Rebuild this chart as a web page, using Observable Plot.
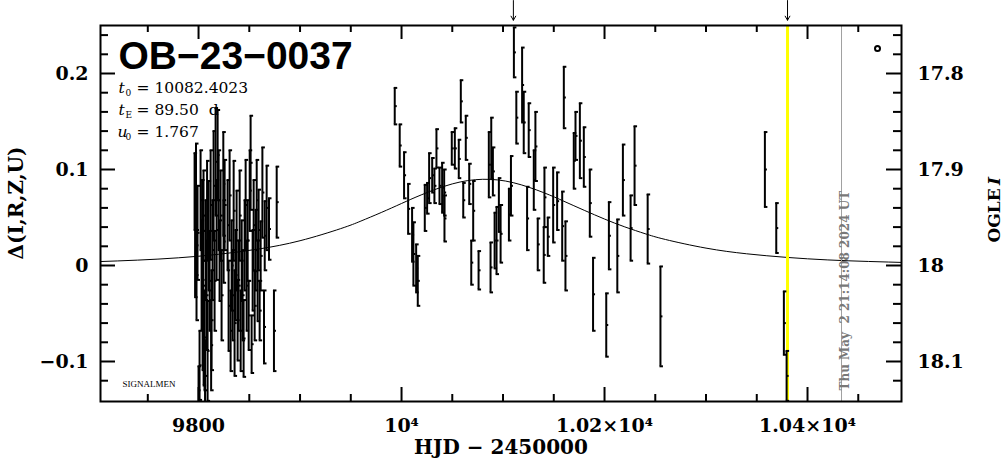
<!DOCTYPE html>
<html><head><meta charset="utf-8">
<script src="https://cdn.jsdelivr.net/npm/d3@7"></script>
<script src="https://cdn.jsdelivr.net/npm/@observablehq/plot@0.6"></script>
<style>html,body{margin:0;padding:0;background:#fff;}</style>
</head><body><div id="chart"></div>
<script>
// Observations: HJD-2450000, delta mag, error
const hjd = [
9796.1,9796.6,9797.5,9798.0,9799.0,9801.0,9802.0,9803.0,9804.0,9804.9,9805.9,9806.4,9806.9,9807.9,9808.9,9809.9,9810.9,9811.9,9812.8,9813.8,
9814.8,9815.8,9816.8,9817.8,9818.8,9819.8,9820.7,9821.7,9822.7,9824.4,9824.7,9825.7,9828.6,9829.6,9830.6,9831.6,9832.6,9833.6,9834.6,9835.5,
9836.5,9837.5,9838.5,9839.5,9840.5,9841.5,9842.5,9843.4,9844.4,9845.4,9846.4,9847.4,9848.4,9849.4,9850.4,9851.3,9852.3,9853.3,9854.3,9855.3,
9856.3,9857.3,9858.2,9859.2,9860.2,9861.2,9862.9,9864.5,9865.2,9867.1,9869.4,9874.3,9877.0,9803.5,9808.4,9804.4,9812.4,9800.0,9805.0,
9993.3,9998.2,10002.5,10006.5,10010.4,10011.7,10014.4,10016.0,10022.9,10025.2,10027.2,10030.2,10032.4,10034.4,10037.4,10040.0,10042.0,10042.3,
10049.5,10052.5,10056.4,10058.4,10060.8,10063.3,10066.7,10068.7,10070.6,10075.9,10086.0,10088.4,10090.0,10087.7,10091.7,10093.6,10095.9,10097.6,
10105.8,10107.8,10110.7,10113.1,10118.8,10120.4,10125.3,10123.7,10131.9,10130.3,10134.2,10140.8,10140.1,10144.1,10149.4,10153.3,10158.3,10161.5,
10159.9,10169.7,10171.4,10175.7,10179.6,10185.5,10188.7,10201.7,10204.3,10212.6,10218.1,10225.7,10229.6,10242.5,10255.1,10358.0,10369.2,10376.7,10379.4
];
const dmag = [
0.077,0.017,0.074,-0.010,0.034,-0.104,0.068,-0.010,-0.052,0.052,-0.078,-0.115,0.016,-0.031,-0.089,0.031,-0.016,0.063,-0.057,0.016,
0.083,-0.016,0.108,0.037,0.115,0.068,0.005,0.052,-0.031,0.085,0.025,0.063,0.042,-0.042,0.073,-0.068,0.000,-0.031,0.057,-0.060,
-0.010,0.026,-0.057,-0.021,0.052,-0.068,0.005,-0.031,-0.076,0.021,0.063,-0.021,0.026,-0.052,0.078,0.107,-0.082,-0.005,0.042,-0.042,
0.016,0.068,-0.016,0.037,-0.047,0.010,0.076,-0.064,0.031,0.060,0.038,-0.068,0.066,0.037,0.057,-0.021,-0.083,-0.130,-0.100,
0.166,0.125,0.094,0.059,0.032,0.012,-0.003,-0.016,0.060,0.070,0.091,0.094,0.083,0.122,0.083,0.081,0.076,0.049,
0.122,0.122,0.111,0.171,0.068,0.133,0.085,0.003,0.057,-0.005,0.105,0.122,0.098,-0.002,0.026,0.026,0.063,0.033,
0.053,0.083,0.222,0.154,0.188,0.149,0.141,0.049,0.124,0.089,0.022,0.071,0.011,0.030,0.063,0.067,0.041,0.010,
0.175,0.109,0.135,0.130,0.113,0.065,-0.030,-0.062,0.031,0.010,0.089,0.039,0.104,0.038,-0.053,0.100,0.039,-0.060,-0.115
];
const err = [
0.040,0.050,0.053,0.047,0.049,0.036,0.052,0.057,0.057,0.047,0.052,0.036,0.052,0.057,0.052,0.057,0.052,0.057,0.052,0.052,
0.057,0.052,0.056,0.052,0.047,0.052,0.042,0.047,0.047,0.054,0.043,0.047,0.047,0.047,0.047,0.042,0.047,0.047,0.052,0.055,
0.047,0.052,0.042,0.047,0.047,0.042,0.042,0.047,0.040,0.047,0.047,0.047,0.042,0.036,0.042,0.049,0.030,0.042,0.047,0.036,
0.042,0.042,0.042,0.042,0.031,0.036,0.047,0.038,0.036,0.044,0.032,0.042,0.037,0.052,0.052,0.057,0.047,0.025,0.025,
0.019,0.022,0.024,0.026,0.028,0.033,0.025,0.026,0.024,0.016,0.026,0.018,0.018,0.020,0.019,0.026,0.024,0.024,
0.017,0.021,0.020,0.022,0.018,0.023,0.021,0.023,0.031,0.020,0.034,0.032,0.025,0.026,0.029,0.035,0.028,0.030,
0.027,0.031,0.026,0.027,0.039,0.032,0.028,0.033,0.036,0.031,0.027,0.031,0.029,0.020,0.039,0.030,0.036,0.036,
0.032,0.029,0.025,0.039,0.031,0.035,0.038,0.033,0.035,0.038,0.037,0.034,0.041,0.036,0.052,0.039,0.026,0.033,0.026
];
// Model light curve
const modelT = [9700,9740,9780,9820,9860,9900,9940,9960,9980,10000,10020,10050,10080,10110,10140,10160,10180,10200,10220,10240,10260,10300,10340,10380,10420,10460,10500];
const modelD = [0.0040,0.0056,0.0080,0.0117,0.0173,0.0258,0.0384,0.0463,0.0552,0.0646,0.0738,0.0850,0.0898,0.0863,0.0759,0.0669,0.0575,0.0484,0.0402,0.0331,0.0271,0.0181,0.0122,0.0084,0.0058,0.0042,0.0030];

const xDomain = [9703.4, 10492.6];
const yDomain = [-0.14167, 0.25];
const xMajor = [9800, 10000, 10200, 10400];
const xTickLabels = ["9800", "10⁴", "1.02×10⁴", "1.04×10⁴"];
const xMinor = [9750,9850,9900,9950,10050,10100,10150,10250,10300,10350,10450];
const yMajor = [-0.1, 0, 0.1, 0.2];
const yLeftLabels = ["−0.1", "0", "0.1", "0.2"];
const yRightLabels = ["18.1", "18", "17.9", "17.8"];
const yMinor = [-0.12,-0.08,-0.06,-0.04,-0.02,0.02,0.04,0.06,0.08,0.12,0.14,0.16,0.18,0.22,0.24];
const yellowLine = [10380.3];
const grayLine = [10433.5];
const arrowT = [10110.2, 10380.3];
const arrowY = [0.276, 0.2555];

const title = "OB−23−0037";
const params = [["t", "0", "= 10082.4023"], ["t", "E", "= 89.50  d"], ["u", "0", "= 1.767"]];
const stamp = "Thu May \u00a02 21:14:08 2024 UT";
const yLabel = "Δ(I,R,Z,U)";
const xLabel = "HJD − 2450000";

const obs = hjd.map((t, i) => ({t, d: dmag[i], e: err[i]}));
const model = modelT.map((t, i) => ({t, d: modelD[i]}));

const capSym = {draw(ctx) { ctx.moveTo(-1, 0); ctx.lineTo(2.5, 0); }};
const midSym = {draw(ctx) { ctx.moveTo(0, 0); ctx.lineTo(2, 0); }};

const W = 1004, H = 459, ML = 100, MR = 103, MT = 25, MB = 58;
const FW = W - ML - MR, FH = H - MT - MB;
// tick lengths in pixels, converted to data units through the scale spans
const xPerPx = (xDomain[1] - xDomain[0]) / FW;
const yPerPx = (yDomain[1] - yDomain[0]) / FH;
const xMajLen = 14 * yPerPx, xMinLen = 7 * yPerPx;
const yMajLen = 15 * xPerPx, yMinLen = 8 * xPerPx;

const axisFont = {fontFamily: "DejaVu Serif", fontSize: 19, fontWeight: "bold"};
const serif = "DejaVu Serif";

const paramMarks = params.flatMap(([a, s, rest], i) => {
  const dy = 67 + i * 22;
  return [
    Plot.text([a], {text: d => d, frameAnchor: "top-left", dx: a === "u" ? 17 : 18, dy, lineAnchor: "bottom", textAnchor: "start", fontFamily: serif, fontStyle: "italic", fontSize: 15.5}),
    Plot.text([s], {text: d => d, frameAnchor: "top-left", dx: 25, dy: dy + 3, lineAnchor: "bottom", textAnchor: "start", fontFamily: serif, fontSize: 9}),
    Plot.text([rest], {text: d => d, frameAnchor: "top-left", dx: 36, dy, lineAnchor: "bottom", textAnchor: "start", fontFamily: serif, fontSize: 15.5})
  ];
});

// inward ticks drawn as short rules through the scales (same mechanism as the error bars)
const tk = {stroke: "#000", strokeWidth: 2};
const tickMarks = [
  Plot.ruleX(xMajor, {x: d => d, y1: () => yDomain[0], y2: () => yDomain[0] + xMajLen, ...tk}),
  Plot.ruleX(xMinor, {x: d => d, y1: () => yDomain[0], y2: () => yDomain[0] + xMinLen, ...tk}),
  Plot.ruleX(xMajor, {x: d => d, y1: () => yDomain[1] - xMajLen, y2: () => yDomain[1], ...tk}),
  Plot.ruleX(xMinor, {x: d => d, y1: () => yDomain[1] - xMinLen, y2: () => yDomain[1], ...tk}),
  Plot.ruleY(yMajor, {y: d => d, x1: () => xDomain[0], x2: () => xDomain[0] + yMajLen, ...tk}),
  Plot.ruleY(yMinor, {y: d => d, x1: () => xDomain[0], x2: () => xDomain[0] + yMinLen, ...tk}),
  Plot.ruleY(yMajor, {y: d => d, x1: () => xDomain[1] - yMajLen, x2: () => xDomain[1], ...tk}),
  Plot.ruleY(yMinor, {y: d => d, x1: () => xDomain[1] - yMinLen, x2: () => xDomain[1], ...tk})
];
const labelMarks = [
  Plot.axisX(xMajor, {anchor: "bottom", tickSize: 0, tickPadding: 17, tickFormat: d => xTickLabels[xMajor.indexOf(d)], label: null, ...axisFont}),
  Plot.axisY(yMajor, {anchor: "left", tickSize: 0, tickPadding: 12, tickFormat: d => yLeftLabels[yMajor.indexOf(d)], label: null, ...axisFont}),
  Plot.axisY(yMajor, {anchor: "right", tickSize: 0, tickPadding: 16, tickFormat: d => yRightLabels[yMajor.indexOf(d)], label: null, ...axisFont})
];

const chart = Plot.plot({
  width: W, height: H,
  marginLeft: ML, marginRight: MR, marginTop: MT, marginBottom: MB,
  style: {background: "#fff", color: "#000"},
  x: {domain: xDomain},
  y: {domain: yDomain},
  marks: [
    Plot.line(model, {x: "t", y: "d", curve: "natural", stroke: "#000", strokeWidth: 1, clip: true}),
    Plot.ruleX(yellowLine, {x: d => d, stroke: "#ffff00", strokeWidth: 3}),
    Plot.ruleX(grayLine, {x: d => d, stroke: "#a0a0a0", strokeWidth: 1}),
    Plot.ruleX(obs, {x: "t", y1: d => d.d - d.e, y2: d => d.d + d.e, stroke: "#000", strokeWidth: 2, clip: true}),
    Plot.dot(obs, {x: "t", y: d => d.d + d.e, symbol: capSym, r: 1, fill: "none", stroke: "#000", strokeWidth: 2, clip: true}),
    Plot.dot(obs, {x: "t", y: d => d.d - d.e, symbol: capSym, r: 1, fill: "none", stroke: "#000", strokeWidth: 2, clip: true}),
    Plot.dot(obs, {x: "t", y: "d", symbol: midSym, r: 1, fill: "none", stroke: "#000", strokeWidth: 2, clip: true}),
    Plot.arrow(arrowT, {x1: d => d, x2: d => d, y1: () => arrowY[0], y2: () => arrowY[1], stroke: "#000", strokeWidth: 1, headLength: 7, headAngle: 60}),
    Plot.frame({stroke: "#000", strokeWidth: 2}),
    ...tickMarks,
    ...labelMarks,
    // annotations
    Plot.text([title], {text: d => d, frameAnchor: "top-left", dx: 18, dy: 43, lineAnchor: "bottom", textAnchor: "start", fontFamily: "Liberation Sans", fontWeight: "bold", fontSize: 39}),
    ...paramMarks,
    Plot.text(["SIGNALMEN"], {text: d => d, frameAnchor: "bottom-left", dx: 22, dy: -15, lineAnchor: "bottom", textAnchor: "start", fontFamily: "Liberation Serif", fontSize: 9}),
    Plot.dot([0], {frameAnchor: "top-right", dx: -24, dy: 23, r: 2.5, fill: "none", stroke: "#000", strokeWidth: 2}),
    Plot.text(grayLine, {x: d => d, text: () => stamp, frameAnchor: "bottom", rotate: -90, textAnchor: "start", dx: 7, dy: -11, fill: "#787878", fontFamily: serif, fontWeight: "bold", fontSize: 12}),
    Plot.text([yLabel], {text: d => d, frameAnchor: "left", dx: -84, dy: -10.5, rotate: -90, textAnchor: "middle", fontFamily: serif, fontWeight: "bold", fontSize: 20}),
    Plot.text(["OGLE"], {text: d => d, frameAnchor: "right", dx: 93, dy: 29, rotate: -90, textAnchor: "start", fontFamily: serif, fontWeight: "bold", fontSize: 17}),
    Plot.text(["I"], {text: d => d, frameAnchor: "right", dx: 93, dy: -28.5, rotate: -90, textAnchor: "start", fontFamily: serif, fontWeight: "bold", fontStyle: "italic", fontSize: 17}),
    Plot.text([xLabel], {text: d => d, frameAnchor: "bottom", dy: 52, lineAnchor: "bottom", fontFamily: serif, fontWeight: "bold", fontSize: 20})
  ]
});
document.getElementById("chart").appendChild(chart);
</script>
</body></html>
